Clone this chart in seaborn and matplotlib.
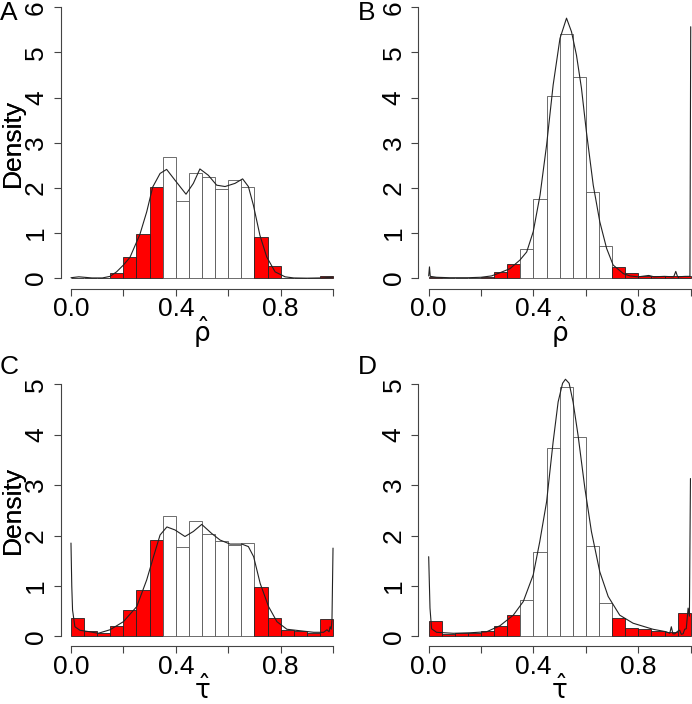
import matplotlib
matplotlib.use("Agg")  # headless backend
import matplotlib.pyplot as plt
import seaborn as sns

# ── Data ─────────────────────────────────────────────────────────────────────
BIN_EDGES = [0.00, 0.05, 0.10, 0.15, 0.20, 0.25, 0.30, 0.35, 0.40, 0.45, 0.50,
             0.55, 0.60, 0.65, 0.70, 0.75, 0.80, 0.85, 0.90, 0.95, 1.00]
TAIL_LOW, TAIL_HIGH = 0.35, 0.70

A_HEIGHTS = [0.01, 0.0, 0.0, 0.11, 0.46, 0.97, 2.02, 2.68, 1.70, 2.32,
             2.25, 1.97, 2.18, 2.03, 0.92, 0.26, 0.0, 0.0, 0.0, 0.04]
A_CURVE_X = [0.0, 0.015, 0.03, 0.05, 0.08, 0.12, 0.149, 0.174, 0.200, 0.225,
             0.263, 0.289, 0.312, 0.340, 0.365, 0.397, 0.439, 0.467, 0.492,
             0.524, 0.556, 0.588, 0.626, 0.655, 0.677, 0.696, 0.721, 0.747,
             0.779, 0.817, 0.85, 0.9, 0.95, 1.0]
A_CURVE_Y = [0.01, 0.02, 0.03, 0.02, 0.005, 0.005, 0.04, 0.14, 0.29, 0.46,
             0.97, 1.47, 2.02, 2.32, 2.41, 2.17, 1.86, 2.10, 2.42,
             2.28, 2.06, 2.03, 2.10, 2.20, 2.03, 1.62, 0.95, 0.47,
             0.14, 0.03, 0.005, 0.0, 0.005, 0.02]

B_HEIGHTS = [0.03, 0.0, 0.0, 0.01, 0.02, 0.13, 0.31, 0.65, 1.76, 4.04,
             5.42, 4.46, 1.90, 0.71, 0.25, 0.11, 0.05, 0.04, 0.04, 0.04]
B_CURVE_X = [0.0, 0.003, 0.006, 0.03, 0.08, 0.15, 0.20, 0.24, 0.272, 0.310,
             0.348, 0.374, 0.399, 0.425, 0.450, 0.475, 0.501, 0.526, 0.545,
             0.564, 0.583, 0.602, 0.628, 0.653, 0.679, 0.704, 0.743, 0.768,
             0.80, 0.84, 0.86, 0.90, 0.935, 0.943, 0.95, 0.98, 0.997, 1.0]
B_CURVE_Y = [0.05, 0.25, 0.04, 0.02, 0.01, 0.01, 0.02, 0.05, 0.12, 0.21,
             0.40, 0.58, 1.03, 1.84, 2.95, 4.28, 5.31, 5.76, 5.46,
             4.94, 4.21, 3.24, 2.06, 1.25, 0.66, 0.29, 0.10, 0.05,
             0.03, 0.06, 0.03, 0.04, 0.03, 0.15, 0.03, 0.04, 0.04, 5.57]

C_HEIGHTS = [0.36, 0.10, 0.07, 0.21, 0.53, 0.91, 1.92, 2.39, 1.77, 2.28,
             2.02, 1.90, 1.81, 1.85, 0.98, 0.36, 0.13, 0.10, 0.07, 0.34]
C_CURVE_X = [0.0, 0.003, 0.006, 0.015, 0.034, 0.072, 0.104, 0.149, 0.200,
             0.251, 0.289, 0.315, 0.340, 0.366, 0.397, 0.435, 0.467, 0.499,
             0.537, 0.569, 0.607, 0.652, 0.677, 0.697, 0.722, 0.754, 0.786,
             0.824, 0.875, 0.926, 0.964, 0.977, 0.985, 0.989, 0.993, 0.996, 1.0]
C_CURVE_Y = [1.85, 1.0, 0.52, 0.19, 0.12, 0.09, 0.06, 0.13, 0.29,
             0.59, 1.12, 1.58, 2.01, 2.17, 2.11, 1.98, 2.08, 2.22,
             2.04, 1.91, 1.83, 1.83, 1.78, 1.58, 1.05, 0.59, 0.29,
             0.14, 0.11, 0.08, 0.08, 0.13, 0.09, 0.19, 0.14, 0.32, 1.75]

D_HEIGHTS = [0.30, 0.05, 0.07, 0.07, 0.10, 0.21, 0.43, 0.73, 1.68, 3.74,
             4.94, 3.95, 1.79, 0.67, 0.37, 0.17, 0.15, 0.10, 0.08, 0.47]
D_CURVE_X = [0.0, 0.005, 0.011, 0.030, 0.094, 0.157, 0.221, 0.272, 0.323,
             0.361, 0.399, 0.424, 0.450, 0.475, 0.494, 0.511, 0.522, 0.536,
             0.551, 0.570, 0.596, 0.621, 0.653, 0.685, 0.729, 0.780, 0.856,
             0.907, 0.920, 0.926, 0.932, 0.939, 0.950, 0.958, 0.964, 0.971,
             0.977, 0.983, 0.990, 0.995, 0.999]
D_CURVE_Y = [1.58, 0.56, 0.15, 0.08, 0.06, 0.07, 0.09, 0.21, 0.42,
             0.69, 1.22, 1.88, 2.67, 3.86, 4.65, 5.02, 5.10, 5.02,
             4.65, 3.99, 2.94, 2.08, 1.28, 0.79, 0.42, 0.26, 0.14,
             0.09, 0.06, 0.19, 0.05, 0.05, 0.10, 0.12, 0.04, 0.05,
             0.14, 0.15, 0.56, 0.40, 3.13]

PANELS = [
    # letter, heights, curve x, curve y, ymax, xlabel
    ("A", A_HEIGHTS, A_CURVE_X, A_CURVE_Y, 6, r"$\hat{\mathrm{ρ}}$"),
    ("B", B_HEIGHTS, B_CURVE_X, B_CURVE_Y, 6, r"$\hat{\mathrm{ρ}}$"),
    ("C", C_HEIGHTS, C_CURVE_X, C_CURVE_Y, 5, r"$\hat{\mathrm{τ}}$"),
    ("D", D_HEIGHTS, D_CURVE_X, D_CURVE_Y, 5, r"$\hat{\mathrm{τ}}$"),
]

# ── Style ────────────────────────────────────────────────────────────────────
sns.set_theme(style="white")
plt.rcParams["font.family"] = ["Liberation Sans", "DejaVu Sans"]
plt.rcParams["mathtext.fontset"] = "dejavusans"
for key in ("text.color", "axes.labelcolor", "xtick.labelcolor", "ytick.labelcolor"):
    plt.rcParams[key] = "black"

FS = 19
W, H = 692, 704
fig = plt.figure(figsize=(W / 100, H / 100), dpi=100)

# axes rectangles in pixels (left, top, right, bottom) of the R plot regions
RECTS = {
    "A": (60.5, -3.5, 343.5, 289.0),
    "B": (418.2, -3.5, 701.2, 289.0),
    "C": (60.5, 374.2, 343.5, 646.4),
    "D": (418.2, 374.2, 701.2, 646.4),
}
LETTER_POS = {"A": (0, 20), "B": (358, 20), "C": (0, 374), "D": (358, 374)}

centers = [(lo + hi) / 2 for lo, hi in zip(BIN_EDGES[:-1], BIN_EDGES[1:])]

for letter, heights, cx, cy, ymax, xlab in PANELS:
    l, t, r, b = RECTS[letter]
    ax = fig.add_axes([l / W, 1 - b / H, (r - l) / W, (b - t) / H])
    ax.set_facecolor("none")

    sns.histplot(x=centers, weights=heights, bins=BIN_EDGES, stat="count",
                 color="white", edgecolor="black", linewidth=0.6, alpha=1,
                 ax=ax)
    for patch, c in zip(ax.patches, centers):
        tail = c < TAIL_LOW or c > TAIL_HIGH
        patch.set_facecolor("#FF0000" if tail else "white")
        patch.set_edgecolor("#222222" if tail else "#555555")

    sns.lineplot(x=cx, y=cy, sort=False, estimator=None, color="#222222",
                 linewidth=0.8, ax=ax)

    ax.set_xlim(-0.04, 1.04)
    ax.set_ylim(-0.04 * ymax, ymax * 1.04)
    for side in ("top", "right"):
        ax.spines[side].set_visible(False)
    for side in ("left", "bottom"):
        ax.spines[side].set_color("#444444")
        ax.spines[side].set_linewidth(0.8)
    ax.spines["left"].set_bounds(0, ymax)
    ax.spines["bottom"].set_bounds(0, 1)

    ax.set_xticks([0.0, 0.2, 0.4, 0.6, 0.8, 1.0])
    ax.set_xticklabels(["0.0", "", "0.4", "", "0.8", ""])
    ax.set_yticks(list(range(ymax + 1)))
    ax.set_yticklabels([str(v) for v in range(ymax + 1)])
    ax.tick_params(axis="both", direction="out", length=5, width=0.8,
                   color="#444444", labelsize=FS, bottom=True, left=True)
    ax.tick_params(axis="x", pad=1)
    ax.tick_params(axis="y", pad=4)
    for lab in ax.get_yticklabels():
        lab.set_rotation(90)
        lab.set_va("center")

    ax.set_ylabel("Density", fontsize=FS, va="center")
    ax.yaxis.set_label_coords(-(l - 13) / (r - l), 0.5)
    ax.set_xlabel(xlab, fontsize=FS, va="center")
    ax.xaxis.set_label_coords(0.5, -43 / (b - t))

    lx, ly = LETTER_POS[letter]
    fig.text(lx / W, 1 - ly / H, letter, fontsize=FS, va="baseline", ha="left")

fig.savefig("out.png", dpi=100)
